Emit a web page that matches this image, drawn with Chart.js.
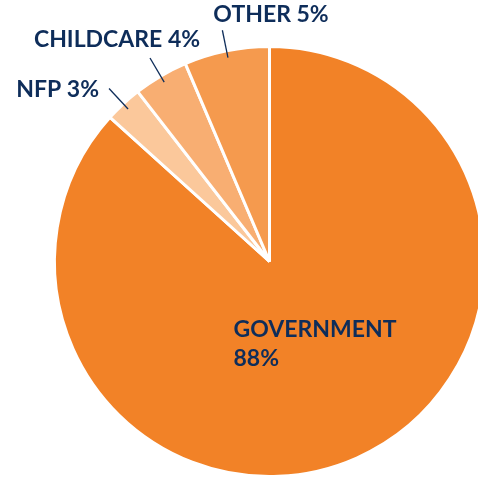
<!DOCTYPE html>
<html>
<head>
<meta charset="utf-8">
<script src="https://cdn.jsdelivr.net/npm/chart.js@4"></script>
<style>
  html, body { margin: 0; padding: 0; background: #fff; overflow: hidden; }
  #wrap { position: absolute; left: 0; top: 0; width: 540px; height: 480px; }
</style>
</head>
<body>
<div id="wrap"><canvas id="pieChart"></canvas></div>
<script>
// Data
const categories = ['GOVERNMENT', 'NFP', 'CHILDCARE', 'OTHER'];
const shares = [86.7, 2.8, 4.1, 6.4];            // drawn slice sizes
const pctLabels = ['88%', '3%', '4%', '5%'];      // printed labels
const sliceColors = ['#F28227', '#FBC89B', '#F8AE72', '#F59A4E'];

const textColor = '#0E2D5A';
const labelFont = '700 23px Lato, sans-serif';

// label placement relative to leader line outer end (or centre for the big slice)
const labelPlace = [
  { inside: true, dx: -36, dy: 75 },
  { align: 'right', baseline: 'middle', dx: -10, dy: 1 },
  { align: 'center', baseline: 'alphabetic', dx: -33, dy: -11 },
  { align: 'left', baseline: 'alphabetic', dx: -9, dy: -8 }
];

const labelsPlugin = {
  id: 'sliceLabels',
  afterDraw(chart) {
    const ctx = chart.ctx;
    const arcs = chart.getDatasetMeta(0).data;
    ctx.save();
    ctx.fillStyle = textColor;
    ctx.strokeStyle = textColor;
    ctx.font = labelFont;
    arcs.forEach((arc, i) => {
      const p = labelPlace[i];
      const cx = arc.x, cy = arc.y;
      if (p.inside) {
        ctx.textAlign = 'left';
        ctx.textBaseline = 'alphabetic';
        ctx.fillText(categories[i], cx + p.dx, cy + p.dy);
        ctx.fillText(pctLabels[i], cx + p.dx, cy + p.dy + 29);
        return;
      }
      const mid = (arc.startAngle + arc.endAngle) / 2;
      const r = arc.outerRadius;
      const x1 = cx + Math.cos(mid) * (r - 7);
      const y1 = cy + Math.sin(mid) * (r - 7);
      const x2 = cx + Math.cos(mid) * (r + 21);
      const y2 = cy + Math.sin(mid) * (r + 21);
      ctx.lineWidth = 1.3;
      ctx.beginPath();
      ctx.moveTo(x1, y1);
      ctx.lineTo(x2, y2);
      ctx.stroke();
      ctx.textAlign = p.align;
      ctx.textBaseline = p.baseline;
      ctx.fillText(categories[i] + ' ' + pctLabels[i], x2 + p.dx, y2 + p.dy);
    });
    ctx.restore();
  }
};

new Chart(document.getElementById('pieChart'), {
  type: 'pie',
  data: {
    labels: categories,
    datasets: [{
      data: shares,
      backgroundColor: sliceColors,
      borderColor: '#ffffff',
      borderWidth: 3
    }]
  },
  options: {
    responsive: true,
    maintainAspectRatio: false,
    animation: false,
    layout: { padding: { left: 53, right: 54, top: 45, bottom: 2 } },
    plugins: {
      legend: { display: false },
      tooltip: { enabled: false }
    }
  },
  plugins: [labelsPlugin]
});
</script>
</body>
</html>
